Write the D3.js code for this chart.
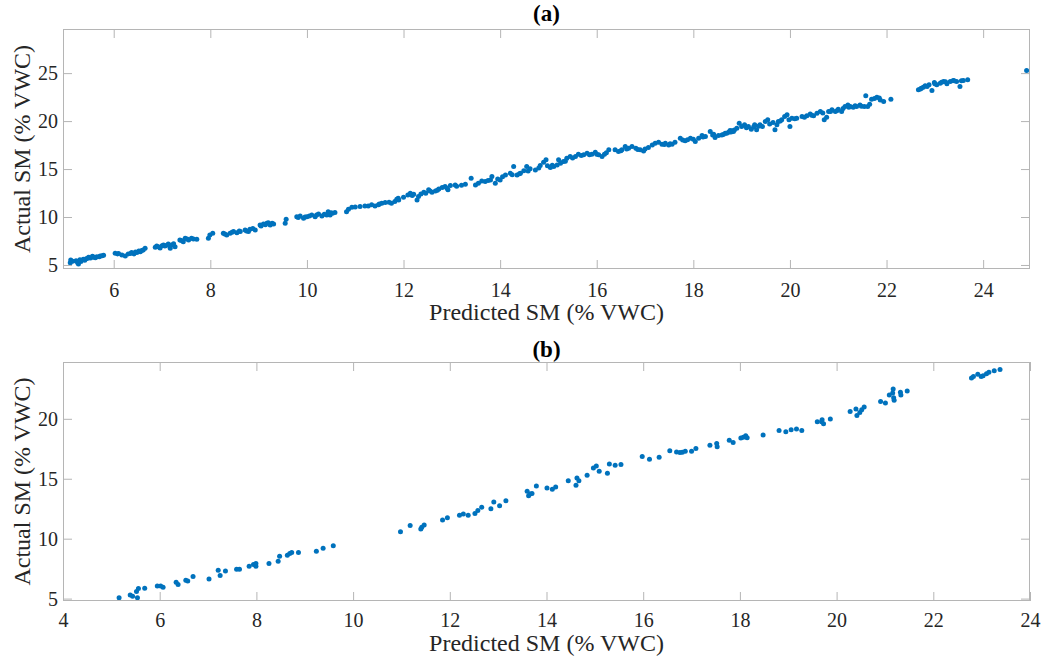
<!DOCTYPE html>
<html>
<head>
<meta charset="utf-8">
<script src="https://cdn.jsdelivr.net/npm/d3@7"></script>
<style>
  html, body { margin: 0; padding: 0; background: #fff; }
  svg { display: block; }
</style>
</head>
<body>
<svg id="chart" width="1044" height="663"></svg>
<script>
// ---------- DATA ----------
const panelTitles = ["(a)", "(b)"];
const xLabel = "Predicted SM (% VWC)";
const yLabel = "Actual SM (% VWC)";

const aXTicks = [6, 8, 10, 12, 14, 16, 18, 20, 22, 24];
const aYTicks = [5, 10, 15, 20, 25];
const bXTicks = [4, 6, 8, 10, 12, 14, 16, 18, 20, 22, 24];
const bYTicks = [5, 10, 15, 20];

const aXDomain = [4.95, 24.97];
const aYDomain = [4.58, 29.6];
const bXDomain = [4, 24];
const bYDomain = [4.8, 24.74];

// Panel (a): predicted (x) and actual (y)
const aX = [5.10,5.11,5.22,5.27,5.32,5.37,5.43,5.48,5.52,5.59,5.65,5.72,5.79,6.03,6.08,6.17,6.24,6.30,6.37,6.42,6.48,6.55,6.61,6.65,6.86,6.89,6.96,7.03,7.06,7.13,7.17,7.20,7.27,7.37,7.44,7.48,7.55,7.61,7.72,7.96,7.99,8.05,8.27,8.34,8.41,8.48,8.55,8.62,8.72,8.79,8.82,8.93,9.03,9.10,9.17,9.24,9.31,9.55,9.57,9.79,9.86,9.93,10.00,10.10,10.17,10.24,10.31,10.41,10.44,10.48,10.53,10.58,10.82,10.86,10.93,11.10,11.27,11.34,11.41,11.48,11.55,11.62,11.75,11.82,11.86,11.89,
  11.90,12.09,12.14,12.21,12.28,12.31,12.42,12.46,12.52,12.59,12.66,12.73,12.80,12.86,12.92,12.97,13.07,13.28,13.40,13.49,13.55,13.62,13.69,13.80,13.83,13.90,14.00,14.11,14.21,14.28,14.35,14.42,14.49,14.55,14.62,14.73,14.83,14.90,14.95,15.04,15.11,15.18,15.21,15.31,15.38,15.45,15.56,15.62,15.73,15.80,15.90,15.97,16.04,16.11,16.16,16.25,16.38,16.45,16.52,16.59,16.66,16.73,16.81,16.90,16.97,17.07,17.21,17.28,17.35,17.42,17.49,17.56,17.62,17.73,17.78,17.83,17.94,18.04,18.11,18.18,18.25,18.35,18.42,18.45,18.52,18.59,18.66,18.73,18.80,18.85,
  18.69,18.76,18.83,18.90,18.95,19.00,19.06,19.14,19.20,19.27,19.31,19.38,19.43,19.49,19.54,19.69,19.73,19.76,19.83,19.89,19.94,20.00,20.04,20.14,20.25,20.35,20.42,20.49,20.56,20.63,20.71,20.76,20.80,20.87,20.94,21.00,21.07,21.14,21.20,21.25,21.31,21.38,21.45,21.54,21.57,21.61,21.69,21.80,21.87,21.94,22.09,22.66,22.72,22.76,22.80,22.88,22.94,22.99,23.04,23.11,23.18,23.25,23.32,23.38,23.45,23.52,23.59,23.68,24.90,
  5.15,5.25,5.30,5.40,5.46,5.56,5.62,5.70,5.76,6.10,6.35,6.45,6.52,6.58,6.92,7.00,7.10,7.24,7.40,7.52,7.65,8.30,8.45,8.60,8.75,8.88,9.05,9.14,9.20,9.28,9.82,9.96,10.05,10.20,10.36,10.50,11.00,11.20,11.50,11.70,
  12.00,12.18,12.36,12.55,12.70,12.90,13.10,13.20,13.75,13.95,14.05,14.25,14.40,14.58,14.80,14.98,15.08,15.25,15.35,15.50,15.68,15.85,16.00,16.20,16.50,16.62,16.85,17.00,17.15,17.40,17.52,17.88,18.00,18.20,18.40,18.62,18.78,
  19.10,19.25,19.35,19.58,19.65,19.80,19.98,20.10,20.30,20.45,20.68,20.84,20.98,21.10,21.22,21.35,21.48,21.65,21.75,21.85,22.70,22.84,23.00,23.14,23.22,23.40,23.55];
const aY = [5.24,5.52,5.45,5.10,5.35,5.59,5.66,5.80,5.73,5.80,5.87,5.94,6.01,6.22,6.15,6.04,5.94,6.15,6.29,6.15,6.29,6.39,6.56,6.74,6.84,6.98,6.77,7.09,6.98,7.19,6.74,7.09,6.91,7.61,7.43,7.78,7.61,7.78,7.68,7.78,8.13,8.30,8.30,8.13,8.30,8.48,8.37,8.48,8.65,8.48,8.72,8.65,9.17,9.28,9.35,9.17,9.28,9.35,9.76,10.04,10.11,9.87,10.04,10.22,10.04,10.32,10.11,10.22,10.56,10.22,10.39,10.46,10.56,10.81,11.02,11.09,11.16,11.29,11.16,11.29,11.43,11.50,11.43,11.61,11.85,11.95,
  11.78,12.30,12.48,12.37,11.78,12.13,12.58,12.48,12.83,12.58,12.72,12.93,13.07,13.17,12.83,13.28,13.35,13.42,14.04,13.35,13.52,13.76,13.69,13.87,14.22,13.52,13.87,14.39,14.56,15.26,14.39,14.56,14.81,15.26,15.02,14.91,15.36,15.71,15.96,15.16,15.26,15.43,15.96,15.78,16.13,16.30,16.30,16.55,16.48,16.65,16.55,16.76,16.48,16.30,16.55,17.00,17.00,16.82,17.00,17.35,17.17,17.35,17.17,17.00,16.89,17.24,17.69,17.80,17.59,17.69,17.52,17.59,17.80,18.22,18.04,17.94,18.22,17.87,18.22,18.49,18.39,18.91,18.63,18.28,18.49,18.56,18.74,18.84,18.98,19.08,
  18.74,19.02,18.91,19.26,19.78,19.43,19.61,19.43,19.15,19.61,19.09,19.61,19.43,19.95,20.13,19.09,19.61,19.95,20.13,20.48,20.65,19.43,20.30,20.30,20.48,20.55,20.75,20.55,20.82,21.00,20.13,20.41,21.00,21.17,21.00,21.24,21.00,21.52,21.69,21.52,21.45,21.52,21.69,21.52,22.63,21.52,22.28,22.49,22.21,22.04,22.28,23.26,23.43,23.54,23.68,23.78,23.19,24.02,23.78,23.95,24.13,23.88,24.13,24.23,24.13,23.61,24.23,24.30,25.27,
  5.40,5.25,5.55,5.50,5.70,5.90,5.75,5.85,5.95,6.20,6.20,6.35,6.45,6.50,6.90,7.00,7.05,7.20,7.55,7.70,7.70,8.22,8.40,8.55,8.55,8.80,9.05,9.20,9.40,9.35,9.95,10.00,10.10,10.20,10.30,10.45,11.05,11.15,11.35,11.55,
  12.05,12.25,12.40,12.70,12.80,13.00,13.20,13.30,13.80,13.95,14.20,14.40,14.50,14.80,15.10,15.35,15.40,15.60,15.80,16.15,16.40,16.50,16.55,16.70,16.90,17.10,17.05,17.10,17.50,17.55,17.65,18.05,18.10,18.35,18.55,18.60,18.85,
  19.30,19.40,19.45,19.70,19.85,20.00,20.15,20.25,20.40,20.60,20.85,21.00,21.10,21.30,21.45,21.60,21.55,21.75,22.35,22.40,23.35,23.60,23.90,24.05,24.10,24.20,24.20];

// Panel (b)
const bX = [5.16,5.39,5.44,5.54,5.52,5.56,5.69,5.95,6.02,6.07,6.34,6.38,6.54,6.58,6.69,7.02,7.21,7.25,7.36,7.59,7.65,7.85,7.94,7.99,7.99,8.26,8.45,8.48,8.64,8.69,8.73,8.87,9.24,9.38,9.59,10.98,
  11.18,11.40,11.42,11.47,11.85,11.95,12.20,12.28,12.38,12.52,12.58,
  12.66,12.85,12.91,13.03,13.16,13.60,13.63,13.66,13.70,13.79,14.01,14.12,14.19,14.45,14.61,14.63,14.67,14.84,14.97,15.03,15.09,15.26,15.30,15.42,15.54,15.98,16.13,16.33,16.55,16.69,16.76,16.81,16.87,17.00,17.09,17.38,17.52,17.53,17.78,17.86,
  18.02,18.07,18.12,18.15,18.48,18.81,18.95,19.06,19.17,19.28,19.60,19.69,19.70,19.73,19.87,20.28,20.40,20.42,20.48,20.52,20.57,20.91,21.01,21.09,21.16,21.17,21.18,21.19,21.32,21.33,21.46,22.79,22.83,22.92,22.99,23.03,23.10,23.15,23.26,23.38];
const bY = [5.08,5.30,5.19,5.08,5.59,5.84,5.86,6.05,6.05,5.95,6.36,6.17,6.53,6.47,6.84,6.64,7.37,6.92,7.31,7.45,7.45,7.70,7.84,7.93,7.70,7.93,8.12,8.54,8.62,8.77,8.85,8.85,8.96,9.21,9.40,10.57,
  11.10,10.80,10.95,11.15,11.55,11.75,11.95,12.05,11.95,12.10,12.35,
  12.62,12.50,13.06,12.75,13.17,13.95,13.59,13.73,13.76,14.40,14.23,14.12,14.31,14.84,14.45,15.07,14.84,15.29,15.90,16.07,15.63,15.46,16.24,16.13,16.18,16.85,16.63,16.80,17.33,17.24,17.19,17.22,17.30,17.30,17.52,17.80,17.94,17.66,18.22,18.02,
  18.39,18.47,18.58,18.41,18.64,19.03,18.92,19.08,19.14,19.03,19.75,19.75,19.92,19.59,19.98,20.61,20.81,20.28,20.53,20.76,20.98,21.45,21.31,21.99,22.16,22.49,21.76,21.54,22.21,21.99,22.32,23.41,23.54,23.71,23.54,23.60,23.77,23.88,24.00,24.11];

// ---------- DRAW ----------
const svg = d3.select("#chart");
const FONT = "'Liberation Serif', 'Times New Roman', serif";
const AXIS_COLOR = "#b5b5b5";
const TEXT_COLOR = "#262626";
const DOT_COLOR = "#0072BD";
const TICK_LEN = 9;

function drawPanel(cfg) {
  const { left, right, top, bottom, xDomain, yDomain, xTicks, yTicks, xs, ys, title } = cfg;
  const x = d3.scaleLinear().domain(xDomain).range([left, right]);
  const y = d3.scaleLinear().domain(yDomain).range([bottom, top]);
  const g = svg.append("g");

  // data points
  g.append("g").selectAll("circle")
    .data(xs.map((v, i) => [v, ys[i]]))
    .join("circle")
    .attr("cx", d => x(d[0]))
    .attr("cy", d => y(d[1]))
    .attr("r", 2.5)
    .attr("fill", DOT_COLOR);

  const fmt = d3.format("d");
  const bAxis = g.append("g").attr("transform", `translate(0,${bottom})`)
    .call(d3.axisBottom(x).tickValues(xTicks).tickSize(-TICK_LEN).tickPadding(8).tickFormat(fmt).tickSizeOuter(0));
  const tAxis = g.append("g").attr("transform", `translate(0,${top})`)
    .call(d3.axisTop(x).tickValues(xTicks).tickSize(-TICK_LEN).tickFormat("").tickSizeOuter(0));
  const lAxis = g.append("g").attr("transform", `translate(${left},0)`)
    .call(d3.axisLeft(y).tickValues(yTicks).tickSize(-TICK_LEN).tickPadding(5).tickFormat(fmt).tickSizeOuter(0));
  const rAxis = g.append("g").attr("transform", `translate(${right},0)`)
    .call(d3.axisRight(y).tickValues(yTicks).tickSize(-TICK_LEN).tickFormat("").tickSizeOuter(0));

  [bAxis, tAxis, lAxis, rAxis].forEach(a => {
    a.select(".domain").remove();
    a.selectAll(".tick line").attr("stroke", AXIS_COLOR).attr("stroke-width", 1);
    a.selectAll(".tick text").attr("fill", TEXT_COLOR).style("font-family", FONT).style("font-size", "20px");
  });
  bAxis.selectAll(".tick text").attr("dy", null).attr("y", cfg.tickBase);
  lAxis.selectAll(".tick text").attr("dy", "0.33em");

  // box
  g.append("rect")
    .attr("x", left + 0.5).attr("y", top + 0.5)
    .attr("width", right - left - 1).attr("height", bottom - top - 1)
    .attr("fill", "none").attr("stroke", AXIS_COLOR).attr("stroke-width", 1);

  g.append("text")
    .attr("x", (left + right) / 2).attr("y", bottom + cfg.labelBase)
    .attr("text-anchor", "middle")
    .attr("fill", TEXT_COLOR).style("font-family", FONT).style("font-size", "24px")
    .text(xLabel);
  g.append("text")
    .attr("transform", `translate(22,${(top + bottom) / 2}) rotate(-90)`)
    .attr("text-anchor", "middle").attr("dy", "0.33em")
    .attr("fill", TEXT_COLOR).style("font-family", FONT).style("font-size", "24px")
    .text(yLabel);
  g.append("text")
    .attr("x", (left + right) / 2).attr("y", cfg.titleY)
    .attr("text-anchor", "middle")
    .attr("fill", "#000").style("font-family", FONT).style("font-size", "23px").style("font-weight", "bold")
    .text(title);
}

drawPanel({ left: 63, right: 1030, top: 29, bottom: 269, xDomain: aXDomain, yDomain: aYDomain,
  xTicks: aXTicks, yTicks: aYTicks, xs: aX, ys: aY, title: panelTitles[0], titleY: 21, tickBase: 28, labelBase: 51 });
drawPanel({ left: 63, right: 1030, top: 362, bottom: 601, xDomain: bXDomain, yDomain: bYDomain,
  xTicks: bXTicks, yTicks: bYTicks, xs: bX, ys: bY, title: panelTitles[1], titleY: 357, tickBase: 26, labelBase: 50 });
</script>
</body>
</html>
